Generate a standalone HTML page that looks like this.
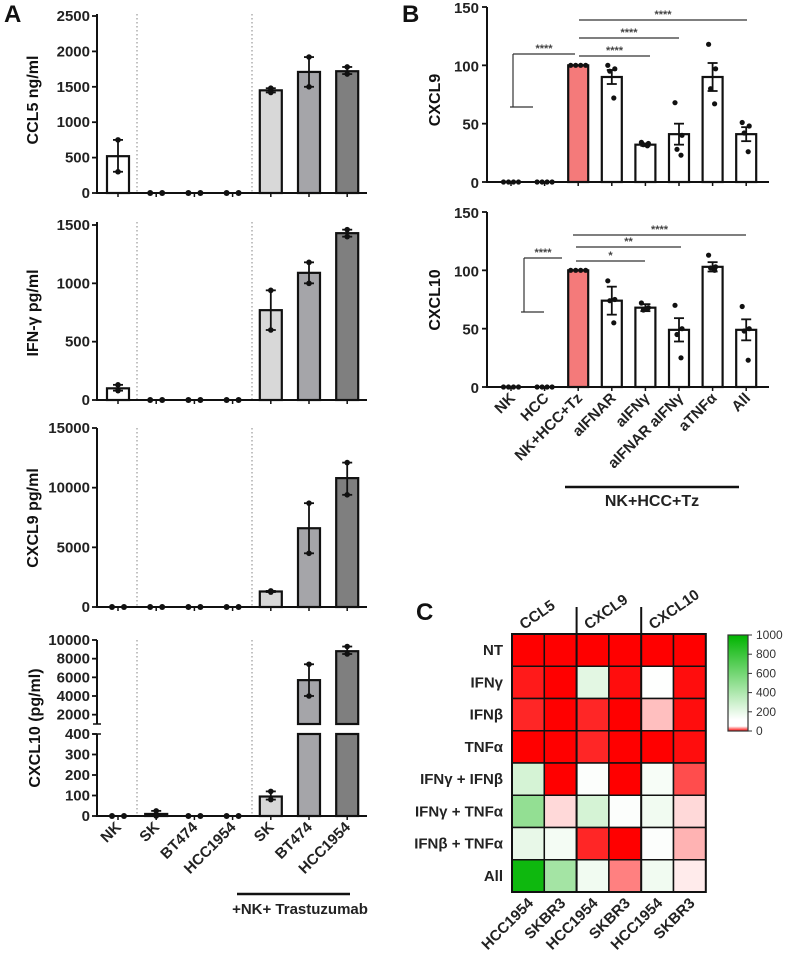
<!DOCTYPE html>
<html><head><meta charset="utf-8"><style>
body{margin:0;background:#fff;}
svg{display:block;font-family:"Liberation Sans",Arial,sans-serif;}
.t{font-weight:bold;font-size:15px;fill:#222;}
.tt{font-weight:bold;font-size:16px;fill:#111;}
.pl{font-weight:bold;font-size:24px;fill:#111;}
</style></head><body>
<svg id="fig" width="786" height="965" viewBox="0 0 786 965"></svg>
<script>
// ---- Panel A data ----
const aCats = ["NK","SK","BT474","HCC1954","SK","BT474","HCC1954"];
const ccl5 = [520,0,0,0,1450,1710,1720];
const ccl5Lo = [300,0,0,0,1420,1500,1680];
const ccl5Hi = [750,0,0,0,1480,1920,1780];
const ifng = [100,0,0,0,770,1090,1430];
const ifngLo = [80,0,0,0,600,1000,1400];
const ifngHi = [130,0,0,0,940,1180,1460];
const cxcl9A = [0,0,0,0,1300,6600,10800];
const cxcl9ALo = [0,0,0,0,1250,4500,9400];
const cxcl9AHi = [0,0,0,0,1350,8700,12100];
const cxcl10A = [0,10,0,0,95,5700,8800];
const cxcl10ALo = [0,0,0,0,80,4000,8500];
const cxcl10AHi = [0,25,0,0,120,7400,9300];
const ccl5Ticks = [0,500,1000,1500,2000,2500];
const ifngTicks = [0,500,1000,1500];
const cxcl9ATicks = [0,5000,10000,15000];
const cxcl10LowTicks = [0,100,200,300,400];
const cxcl10HighTicks = [2000,4000,6000,8000,10000];
// ---- Panel B data ----
const bCats = ["NK","HCC","NK+HCC+Tz","aIFNAR","aIFNγ","aIFNAR aIFNγ","aTNFα","All"];
const bCxcl9 = [0,0,100,90,32,41,90,41];
const bCxcl9Sem = [0,0,0,6,1,9,12,6];
const bCxcl9Dots = [[0,0,0,0],[0,0,0,0],[100,100,100,100],[100,97,95,72],[34,33,32,31],[68,40,28,23],[118,97,80,67],[51,48,42,26]];
const bCxcl10 = [0,0,100,74,68,49,103,49];
const bCxcl10Sem = [0,0,0,12,3,10,4,9];
const bCxcl10Dots = [[0,0,0,0],[0,0,0,0],[100,100,100,100],[91,75,74,55],[72,68,66,67],[70,50,45,25],[113,103,102,100],[69,50,48,23]];
const bTicks = [0,50,100,150];
// ---- Panel C data ----
const hRows = ["NT","IFNγ","IFNβ","TNFα","IFNγ + IFNβ","IFNγ + TNFα","IFNβ + TNFα","All"];
const hCols = ["HCC1954","SKBR3","HCC1954","SKBR3","HCC1954","SKBR3"];
const hGroups = ["CCL5","CXCL9","CXCL10"];
const hVals = [
 [0,0,0,0,0,0],
 [10,0,200,5,105,5],
 [15,0,15,0,75,5],
 [0,0,15,0,0,5],
 [250,0,110,0,130,30],
 [480,85,250,110,150,85],
 [180,140,15,0,110,70],
 [950,420,150,50,150,92]
];
const cbTicks = [0,200,400,600,800,1000];

const svg = document.getElementById('fig');
const NS = "http://www.w3.org/2000/svg";
function mk(tag, attrs, parent, text){
  const e = document.createElementNS(NS, tag);
  for (const k in attrs) e.setAttribute(k, attrs[k]);
  if (text !== undefined) e.textContent = text;
  (parent||svg).appendChild(e);
  return e;
}
function line(x1,y1,x2,y2,w,c,p,dash){const l=mk('line',{x1,y1,x2,y2,stroke:c||'#111','stroke-width':w||2},p);if(dash)l.setAttribute('stroke-dasharray',dash);return l;}

let e;
e = mk('text',{x:4,y:22,class:'pl'},svg,'A');


e = mk('text',{x:402,y:22,class:'pl'},svg,'B');


e = mk('text',{x:416,y:620,class:'pl'},svg,'C');



// ---------- Panel A ----------
const aX0 = 97, aX1 = 367, aStep = 38.2, aFirst = 118;
const aFills = ['#ffffff','#ffffff','#ffffff','#ffffff','#d8d8d8','#a5a5a9','#7f7f7f'];
function ax(i){ return aFirst + i*aStep; }

function panelA(name, title, vals, lo, hi, yFn, ticks, top, bottom, titleY, breakInfo){
  const g = mk('g',{});
  
  
  [137,252].forEach(x=>line(x, top, x, bottom, 1.2, '#999', g, '1.5,2.5'));
  vals.forEach((v,i)=>{
    const cx = ax(i);
    if (v > 0) {
      if (breakInfo && v > breakInfo.lowMax) {
        const r1 = mk('rect',{x:cx-11,y:yFn(breakInfo.lowMax),width:22,height:yFn(0)-yFn(breakInfo.lowMax),fill:aFills[i],stroke:'#111','stroke-width':2.2},g);
        
        
        const r2 = mk('rect',{x:cx-11,y:yFn(v),width:22,height:yFn(breakInfo.highMin)-yFn(v),fill:aFills[i],stroke:'#111','stroke-width':2.2},g);
        
        
      } else {
        const r = mk('rect',{x:cx-11,y:yFn(v),width:22,height:yFn(0)-yFn(v),fill:aFills[i],stroke:'#111','stroke-width':2.2},g);
        
        
      }
      line(cx, yFn(lo[i]), cx, yFn(hi[i]), 1.8, '#111', g);
      line(cx-5, yFn(hi[i]), cx+5, yFn(hi[i]), 1.8, '#111', g);
      line(cx-5, yFn(lo[i]), cx+5, yFn(lo[i]), 1.8, '#111', g);
      const d1 = mk('circle',{cx:cx,cy:yFn(hi[i]),r:2.8,fill:'#111'},g);
      
      
      const d2 = mk('circle',{cx:cx,cy:yFn(lo[i]),r:2.8,fill:'#111'},g);
      
      
    } else {
      const d1 = mk('circle',{cx:cx-6,cy:yFn(lo[i]),r:3,fill:'#111'},g);
      
      
      const d2 = mk('circle',{cx:cx+6,cy:yFn(hi[i]),r:3,fill:'#111'},g);
      
      
    }
    line(cx, bottom, cx, bottom+4, 1.5, '#111', g);
  });
  line(aX0, bottom, aX1, bottom, 2, '#111', g);
  if (breakInfo){
    line(aX0, yFn(0)+1, aX0, yFn(breakInfo.lowMax), 2, '#111', g);
    line(aX0, yFn(breakInfo.highMin), aX0, yFn(breakInfo.highMax), 2, '#111', g);
    line(aX0-4, yFn(breakInfo.highMin), aX0+4, yFn(breakInfo.highMin), 1.5, '#111', g);
    line(aX0-4, yFn(breakInfo.lowMax), aX0+4, yFn(breakInfo.lowMax), 1.5, '#111', g);
  } else {
    line(aX0, bottom+1, aX0, top, 2, '#111', g);
  }
  const allT = ticks.concat(breakInfo ? breakInfo.highTicks : []);
  allT.forEach(t=>{
    const y = yFn(t);
    line(aX0-5, y, aX0, y, 1.8, '#111', g);
    const tx = mk('text',{x:aX0-7,y:y+5,class:'t','text-anchor':'end'},g,String(t));
    
    
  });
  const tt = mk('text',{x:0,y:0,class:'tt','text-anchor':'middle',transform:`translate(${breakInfo?40:38},${titleY}) rotate(-90)`},g,title);
  
  
}

panelA('ccl5-chart','CCL5 ng/ml',ccl5,ccl5Lo,ccl5Hi,v=>193-v*177/2500,ccl5Ticks,14,193,100);
panelA('ifng-chart','IFN-γ pg/ml',ifng,ifngLo,ifngHi,v=>400-v*175/1500,ifngTicks,222,400,313);
panelA('cxcl9-a-chart','CXCL9 pg/ml',cxcl9A,cxcl9ALo,cxcl9AHi,v=>607-v*179/15000,cxcl9ATicks,428,607,518);
function yC10(v){ return v<=400 ? 816 - v*82/400 : 724 - (v-1000)*84/9000; }
panelA('cxcl10-a-chart','CXCL10 (pg/ml)',cxcl10A,cxcl10ALo,cxcl10AHi,yC10,cxcl10LowTicks,640,816,728,{lowMax:400,highMin:1000,highMax:10000,highTicks:cxcl10HighTicks});

aCats.forEach((c,i)=>{
  const x = ax(i)+4, y = 828;
  const t = mk('text',{x:0,y:0,class:'t','text-anchor':'end','font-size':'14.5px',transform:`translate(${x},${y}) rotate(-45)`},svg,c);
  
  
});
line(237,894,350,894,2.5,'#111');
e = mk('text',{x:300,y:914,'text-anchor':'middle','font-size':'15px','font-weight':'bold',fill:'#222'},svg,'+NK+ Trastuzumab');



// ---------- Panel B ----------
const bX0 = 487, bX1 = 769, bFirst = 511, bStep = 33.6;
function bx(i){ return bFirst + i*bStep; }
function panelB(name,title,vals,sem,dots,y0,titleY,sig){
  const yFn = v => y0 - v*175/150;
  const g = mk('g',{});
  
  
  vals.forEach((v,i)=>{
    const cx = bx(i);
    if (i>=2){
      const r = mk('rect',{x:cx-10,y:yFn(v),width:20,height:yFn(0)-yFn(v),fill:i===2?'#f47a7a':'#fff',stroke:'#111','stroke-width':2.2},g);
      
      
      if (sem[i]>0){
        line(cx,yFn(v-sem[i]),cx,yFn(v+sem[i]),1.8,'#111',g);
        line(cx-5,yFn(v+sem[i]),cx+5,yFn(v+sem[i]),1.8,'#111',g);
        line(cx-5,yFn(v-sem[i]),cx+5,yFn(v-sem[i]),1.8,'#111',g);
      }
    }
    dots[i].forEach((d,j)=>{
      const off = (i<=2) ? (j-1.5)*5 : [-4,3,-2,2][j];
      const c = mk('circle',{cx:cx+off,cy:yFn(d),r:2.6,fill:'#111'},g);
      
      
    });
    line(cx,y0,cx,y0+4,1.5,'#111',g);
  });
  line(bX0,y0,bX1,y0,2,'#111',g);
  line(bX0,y0+1,bX0,yFn(150),2,'#111',g);
  bTicks.forEach(t=>{
    line(bX0-5,yFn(t),bX0,yFn(t),1.8,'#111',g);
    const tx = mk('text',{x:bX0-8,y:yFn(t)+6,class:'t','text-anchor':'end','font-size':'16.5px'},g,String(t));
    
    
  });
  const tt = mk('text',{x:0,y:0,class:'tt','text-anchor':'middle','font-size':'17px',transform:`translate(${440},${titleY}) rotate(-90)`},g,title);
  
  
  line(sig.bx, sig.bTop, sig.bx, sig.bBot, 1.2, '#333', g);
  line(sig.bx-3, sig.bBot, sig.bx+20, sig.bBot, 1.2, '#333', g);
  line(sig.bx, sig.bTop, sig.bEnd, sig.bTop, 1.2, '#333', g);
  const st = mk('text',{x:(sig.bx+sig.bEnd)/2,y:sig.bTop-2,'text-anchor':'middle','font-size':'11px',fill:'#444','font-weight':'bold'},g,'****');
  
  
  sig.lines.forEach(s=>{
    line(s.x1,s.y,s.x2,s.y,1.2,'#333',g);
    const t = mk('text',{x:(s.x1+s.x2)/2,y:s.y-2,'text-anchor':'middle','font-size':'11px',fill:'#444','font-weight':'bold'},g,s.s);
    
    
  });
}
panelB('cxcl9-b-chart','CXCL9',bCxcl9,bCxcl9Sem,bCxcl9Dots,182,100,
  {bx:513,bTop:54,bBot:107,bEnd:575,lines:[{x1:579,x2:650,y:56,s:'****'},{x1:579,x2:679,y:38,s:'****'},{x1:579,x2:747,y:20,s:'****'}]});
panelB('cxcl10-b-chart','CXCL10',bCxcl10,bCxcl10Sem,bCxcl10Dots,387,300,
  {bx:524,bTop:258,bBot:312,bEnd:562,lines:[{x1:576,x2:645,y:261,s:'*'},{x1:576,x2:681,y:247,s:'**'},{x1:573,x2:746,y:235,s:'****'}]});
bCats.forEach((c,i)=>{
  const t = mk('text',{x:0,y:0,class:'t','text-anchor':'end','font-size':'15.5px',transform:`translate(${bx(i)+5},${399}) rotate(-45)`},svg,c);
  
  
});
line(565,487,739,487,2.5,'#111');
e = mk('text',{x:652,y:506,'text-anchor':'middle','font-size':'16px','font-weight':'bold',fill:'#222'},svg,'NK+HCC+Tz');



// ---------- Panel C ----------
const hx0 = 512, hy0 = 634, cw = 32.3, ch = 32.25;
function hColor(v){
  if (v <= 100){ const f = v/100; return `rgb(255,${Math.round(255*f)},${Math.round(255*f)})`; }
  const f = Math.min(1,(v-100)/900);
  return `rgb(${Math.round(255*(1-f))},${Math.round(255-75*f)},${Math.round(255*(1-f))})`;
}
const hg = mk('g',{});


hVals.forEach((row,r)=>{
  row.forEach((v,c)=>{
    const rc = mk('rect',{x:hx0+c*cw,y:hy0+r*ch,width:cw,height:ch,fill:hColor(v),stroke:'#111','stroke-width':1.5},hg);
    
    
  });
  const t = mk('text',{x:503,y:hy0+r*ch+ch/2+5,class:'t','text-anchor':'end','font-size':'14.5px'},hg,hRows[r]);
  
  
});
mk('rect',{x:hx0,y:hy0,width:6*cw,height:8*ch,fill:'none',stroke:'#111','stroke-width':2},hg);
[2,4].forEach(k=>line(hx0+k*cw,607,hx0+k*cw,hy0+8*ch,2,'#111',hg));
hGroups.forEach((gname,k)=>{
  const t = mk('text',{x:0,y:0,class:'t','font-size':'15px','text-anchor':'start',transform:`translate(${hx0+k*2*cw+12},${630}) rotate(-35)`},hg,gname);
  
  
});
hCols.forEach((c,i)=>{
  const t = mk('text',{x:0,y:0,class:'t','font-size':'15px','text-anchor':'end',transform:`translate(${hx0+i*cw+cw/2+6},${904}) rotate(-45)`},hg,c);
  
  
});
const defs = mk('defs',{});
const lg = mk('linearGradient',{id:'cb',x1:0,y1:1,x2:0,y2:0},defs);
mk('stop',{offset:'0',  'stop-color':'#ff0000'},lg);
mk('stop',{offset:'0.05','stop-color':'#ffffff'},lg);
mk('stop',{offset:'0.12','stop-color':'#ffffff'},lg);
mk('stop',{offset:'1','stop-color':'#00b400'},lg);
const cbY0 = 731, cbY1 = 635;
const cb = mk('rect',{x:728,y:cbY1,width:20,height:cbY0-cbY1,fill:'url(#cb)',stroke:'#333','stroke-width':1.2});


cbTicks.forEach(t=>{
  const y = cbY0 - t*(cbY0-cbY1)/1000;
  line(748,y,752,y,1,'#333');
  const tx = mk('text',{x:756,y:y+4,'font-size':'12px',fill:'#333'},svg,String(t));
  
  
});
</script>
</body></html>
